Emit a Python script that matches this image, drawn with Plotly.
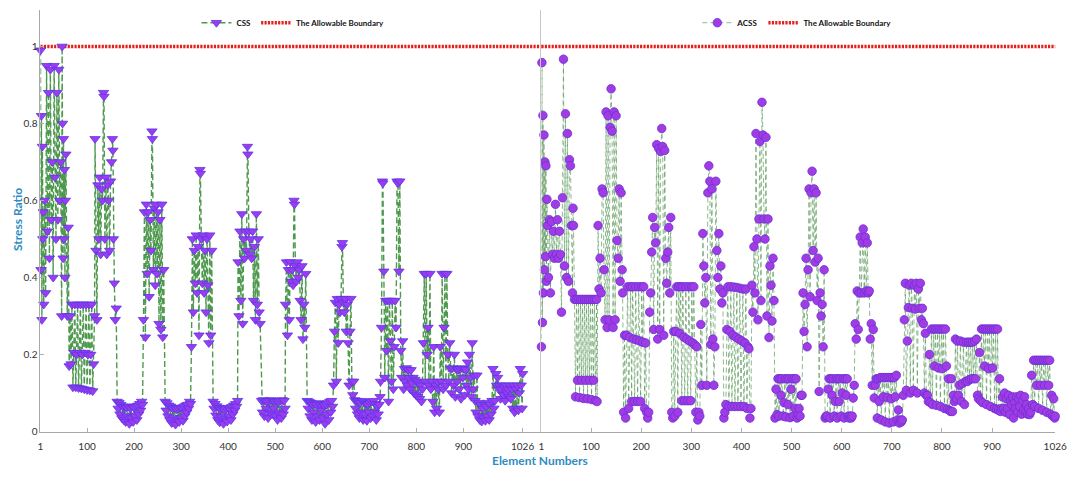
import plotly.graph_objects as go

# Stress ratio per element, CSS design (left panel)
CSS_ELEMENT = [
    1, 2, 3, 4, 5, 6, 7, 8, 10, 12, 14, 16, 18, 20, 22, 24, 26, 28, 30, 32, 34, 36, 38, 40, 42, 44, 46, 47, 48, 49, 50, 51, 52, 53, 54, 55,
    58, 60, 62, 64, 66, 68, 70, 72, 74, 76, 78, 80, 82, 84, 86, 88, 90, 92, 94, 96, 98, 100, 102, 104, 106, 108, 110, 112, 114, 116,
    117, 119, 121, 123, 125, 127, 129, 131, 133, 135, 136, 138, 140, 142, 144, 146, 148, 150, 152, 154, 155, 156, 158, 160, 162,
    164, 166, 168, 170, 172, 174, 176, 178, 180, 182, 184, 186, 188, 190, 192, 194, 196, 198, 200, 202, 204, 206, 208, 210, 212, 214, 216, 218,
    220, 222, 224, 226, 228, 230, 232, 234, 236, 238, 239, 241, 243, 245, 247, 249, 251, 253, 255, 257, 259, 261, 263,
    266, 268, 270, 272, 274, 276, 278, 280, 282, 284, 286, 288, 290, 292, 294, 296, 298, 300, 302, 304, 306, 308, 310, 312, 314, 316, 318, 320,
    322, 324, 326, 328, 330, 332, 334, 336, 338, 340, 341, 343, 345, 347, 349, 351, 353, 355, 357, 359, 361, 363, 365,
    368, 370, 372, 374, 376, 378, 380, 382, 384, 386, 388, 390, 392, 394, 396, 398, 400, 402, 404, 406, 408, 410, 412, 414, 416, 418, 420,
    421, 423, 425, 427, 429, 431, 433, 435, 437, 439, 441, 442, 444, 446, 448, 450, 452, 454, 456, 458, 460, 462, 464, 466, 468,
    471, 473, 475, 477, 479, 481, 483, 485, 487, 489, 491, 493, 495, 497, 499, 501, 503, 505, 507, 509, 511, 513, 515, 517, 519, 521,
    522, 524, 526, 528, 530, 532, 534, 536, 538, 540, 541, 543, 545, 547, 549, 551, 553, 555, 557, 559, 561, 563, 565,
    568, 570, 572, 574, 576, 578, 580, 582, 584, 586, 588, 590, 592, 594, 596, 598, 600, 602, 604, 606, 608, 610, 612, 614, 616, 618, 620, 622,
    624, 626, 628, 630, 632, 634, 636, 638, 640, 642, 643, 645, 647, 649, 651, 653, 655, 657, 659, 661, 663, 665,
    667, 669, 671, 673, 675, 677, 679, 681, 683, 685, 687, 689, 691, 693, 695, 697, 699, 701, 703, 705, 707, 709, 711, 713, 715, 717, 719, 721, 723,
    724, 726, 728, 729, 731, 733, 735, 737, 739, 741, 743, 745, 747, 749, 751, 753, 755, 757, 759, 761, 763, 765, 767, 769, 771, 773,
    775, 777, 779, 781, 783, 785, 787, 789, 791, 793, 795, 797, 799, 801, 803, 805, 807, 809, 811, 813,
    815, 817, 819, 821, 823, 825, 827, 829, 831, 833, 835, 837, 839, 841, 843, 845, 847, 849, 851, 853, 855, 857, 859, 861, 863, 865, 867, 869, 871,
    873, 875, 877, 879, 881, 883, 885, 887, 889, 891, 893, 895, 897, 899, 901, 903, 905, 907, 909, 911, 913, 915, 917, 919, 921, 923,
    925, 927, 929, 931, 933, 935, 937, 939, 941, 943, 945, 947, 949, 951, 953, 955, 957, 959, 961, 963, 965, 967,
    969, 971, 973, 975, 977, 979, 981, 983, 985, 987, 989, 991, 993, 995, 997, 999, 1001, 1003, 1005, 1007, 1009, 1011, 1013, 1015, 1017, 1019, 1021, 1023, 1025, 1026,
]
CSS_RATIO = [
    0.99, 0.42, 0.82, 0.29, 0.74, 0.50, 0.57, 0.33, 0.60, 0.36, 0.95, 0.52, 0.88, 0.45, 0.94, 0.55, 0.70, 0.40, 0.95, 0.66, 0.50, 0.88, 0.55, 0.94, 0.60, 0.70, 0.30, 1.0, 0.80, 0.45, 0.76, 0.50, 0.68, 0.40, 0.60, 0.72,
    0.30, 0.53, 0.17, 0.30, 0.175, 0.33, 0.115, 0.205, 0.33, 0.115, 0.20, 0.33, 0.113, 0.205, 0.33, 0.112, 0.20, 0.33, 0.11, 0.205, 0.33, 0.108, 0.20, 0.33, 0.107, 0.20, 0.33, 0.105, 0.175, 0.30,
    0.76, 0.47, 0.29, 0.64, 0.50, 0.66, 0.46, 0.63, 0.60, 0.88, 0.87, 0.50, 0.66, 0.46, 0.64, 0.60, 0.47, 0.65, 0.70, 0.76, 0.73, 0.50, 0.385, 0.29, 0.32,
    0.078, 0.06, 0.075, 0.045, 0.07, 0.035, 0.065, 0.03, 0.065, 0.025, 0.062, 0.04, 0.065, 0.02, 0.06, 0.035, 0.065, 0.025, 0.062, 0.04, 0.065, 0.03, 0.068, 0.045, 0.072, 0.055, 0.078, 0.07,
    0.29, 0.57, 0.245, 0.59, 0.41, 0.57, 0.35, 0.55, 0.47, 0.78, 0.76, 0.42, 0.58, 0.38, 0.59, 0.41, 0.57, 0.28, 0.55, 0.265, 0.59, 0.245, 0.42,
    0.078, 0.055, 0.074, 0.04, 0.068, 0.03, 0.065, 0.022, 0.06, 0.035, 0.062, 0.018, 0.058, 0.03, 0.06, 0.025, 0.062, 0.035, 0.06, 0.028, 0.065, 0.04, 0.068, 0.05, 0.07, 0.06, 0.078, 0.072,
    0.22, 0.50, 0.31, 0.47, 0.385, 0.51, 0.36, 0.48, 0.25, 0.68, 0.67, 0.50, 0.385, 0.51, 0.36, 0.47, 0.31, 0.50, 0.38, 0.23, 0.51, 0.25, 0.47,
    0.078, 0.06, 0.072, 0.042, 0.066, 0.03, 0.062, 0.024, 0.058, 0.038, 0.06, 0.02, 0.056, 0.032, 0.06, 0.026, 0.062, 0.04, 0.058, 0.03, 0.064, 0.045, 0.068, 0.055, 0.072, 0.065, 0.08,
    0.44, 0.30, 0.52, 0.34, 0.565, 0.28, 0.50, 0.45, 0.52, 0.47, 0.74, 0.72, 0.52, 0.46, 0.50, 0.45, 0.52, 0.34, 0.48, 0.29, 0.565, 0.33, 0.50, 0.31, 0.28,
    0.08, 0.05, 0.082, 0.04, 0.08, 0.06, 0.078, 0.035, 0.08, 0.05, 0.082, 0.045, 0.08, 0.06, 0.078, 0.04, 0.08, 0.03, 0.078, 0.05, 0.08, 0.035, 0.082, 0.045, 0.08, 0.06,
    0.33, 0.44, 0.25, 0.42, 0.29, 0.44, 0.39, 0.42, 0.38, 0.60, 0.59, 0.43, 0.39, 0.44, 0.40, 0.42, 0.34, 0.29, 0.43, 0.24, 0.33, 0.27, 0.41,
    0.08, 0.06, 0.078, 0.04, 0.075, 0.03, 0.07, 0.05, 0.072, 0.025, 0.07, 0.04, 0.074, 0.03, 0.07, 0.055, 0.072, 0.035, 0.068, 0.02, 0.07, 0.045, 0.074, 0.03, 0.078, 0.05, 0.08, 0.065,
    0.12, 0.26, 0.335, 0.13, 0.345, 0.23, 0.33, 0.31, 0.345, 0.48, 0.49, 0.335, 0.31, 0.345, 0.26, 0.33, 0.23, 0.12, 0.26, 0.345, 0.13, 0.095,
    0.13, 0.082, 0.06, 0.08, 0.045, 0.078, 0.035, 0.075, 0.05, 0.08, 0.03, 0.076, 0.045, 0.072, 0.028, 0.07, 0.05, 0.075, 0.035, 0.078, 0.04, 0.08, 0.05, 0.072, 0.03, 0.065, 0.045, 0.07, 0.09,
    0.13, 0.27, 0.65, 0.645, 0.416, 0.14, 0.34, 0.21, 0.34, 0.078, 0.34, 0.235, 0.13, 0.34, 0.11, 0.22, 0.34, 0.27, 0.65, 0.645, 0.416, 0.65, 0.21, 0.14, 0.235, 0.11,
    0.163, 0.13, 0.165, 0.12, 0.16, 0.14, 0.11, 0.16, 0.125, 0.14, 0.10, 0.135, 0.095, 0.13, 0.09, 0.125, 0.085, 0.12, 0.078, 0.11,
    0.23, 0.41, 0.13, 0.41, 0.20, 0.27, 0.12, 0.41, 0.11, 0.13, 0.078, 0.22, 0.05, 0.12, 0.06, 0.13, 0.11, 0.05, 0.22, 0.13, 0.41, 0.11, 0.27, 0.41, 0.12, 0.41, 0.20, 0.13, 0.23,
    0.163, 0.10, 0.165, 0.12, 0.2, 0.09, 0.163, 0.13, 0.16, 0.11, 0.163, 0.085, 0.165, 0.14, 0.163, 0.095, 0.16, 0.12, 0.18, 0.11, 0.2, 0.14, 0.09, 0.23, 0.11, 0.146,
    0.08, 0.05, 0.146, 0.04, 0.075, 0.03, 0.07, 0.026, 0.06, 0.035, 0.07, 0.028, 0.065, 0.04, 0.075, 0.03, 0.07, 0.045, 0.08, 0.163, 0.06, 0.08,
    0.15, 0.12, 0.14, 0.11, 0.12, 0.085, 0.11, 0.12, 0.095, 0.115, 0.08, 0.12, 0.10, 0.11, 0.09, 0.12, 0.085, 0.11, 0.06, 0.12, 0.05, 0.11, 0.06, 0.12, 0.055, 0.10, 0.163, 0.12, 0.06, 0.15,
]

# Stress ratio per element, ACSS design (right panel)
ACSS_ELEMENT = [
    1, 2, 3, 4, 5, 6, 7, 8, 9, 10, 11, 12, 13, 15, 17, 19, 21, 23, 25, 27, 29, 31, 33, 35, 37, 39, 41,
    43, 45, 47, 49, 51, 53, 55, 57, 59, 61, 63, 64, 65,
    67, 69, 71, 73, 75, 77, 79, 81, 83, 85, 87, 89, 91, 93, 95, 97, 99, 101, 103, 105, 107, 109, 111, 112,
    114, 116, 118, 120, 122, 124, 126, 128, 130, 132, 134, 136, 138, 140, 142, 144, 146, 148, 150, 152, 154, 156, 158, 160, 162, 163,
    165, 167, 169, 171, 173, 175, 177, 179, 181, 183, 185, 187, 189, 191, 193, 195, 197, 199, 201, 203, 205, 207, 209, 211, 213, 215,
    217, 219, 221, 223, 225, 227, 229, 231, 233, 235, 237, 239, 241, 243, 245, 247, 249, 251, 253, 255, 257, 259,
    261, 263, 265, 267, 269, 271, 273, 275, 277, 279, 281, 283, 285, 287, 289, 291, 293, 295, 297, 299, 301, 303, 305, 307, 309, 311, 313, 315, 317,
    319, 321, 323, 325, 327, 329, 331, 333, 335, 337, 339, 341, 343, 345, 347, 349, 351, 353, 355, 357, 359, 361, 363, 365, 367,
    369, 371, 373, 375, 377, 379, 381, 383, 385, 387, 389, 391, 393, 395, 397, 399, 401, 403, 405, 407, 409, 411, 413, 415, 417, 419,
    421, 423, 425, 427, 429, 431, 433, 435, 437, 439, 441, 443, 445, 447, 449, 451, 453, 455, 457, 459, 461, 463, 465,
    467, 469, 471, 473, 475, 477, 479, 481, 483, 485, 487, 489, 491, 493, 495, 497, 499, 501, 503, 505, 507, 509, 511, 513, 515, 517, 519, 521,
    523, 525, 527, 529, 531, 533, 535, 537, 539, 541, 543, 545, 547, 549, 551, 553, 555, 557, 559, 561, 563, 565, 567, 569,
    571, 573, 575, 577, 579, 581, 583, 585, 587, 589, 591, 593, 595, 597, 599, 601, 603, 605, 607, 609, 611, 613, 615, 617, 619, 621,
    623, 625, 627, 629, 631, 633, 635, 637, 639, 641, 643, 645, 647, 649, 651, 653, 655, 657, 659, 661, 663, 665, 667,
    669, 671, 673, 675, 677, 679, 681, 683, 685, 687, 689, 691, 693, 695, 697, 699, 701, 703, 705, 707, 709, 711, 713, 715, 717, 719, 721,
    723, 725, 727, 729, 731, 733, 735, 737, 739, 741, 743, 745, 747, 749, 751, 753, 755, 757, 759, 761, 763, 765, 767, 769, 771,
    773, 775, 777, 779, 781, 783, 785, 787, 789, 791, 793, 795, 797, 799, 801, 803, 805, 807, 809, 811, 813, 815, 817, 819, 821,
    823, 825, 827, 829, 831, 833, 835, 837, 839, 841, 843, 845, 847, 849, 851, 853, 855, 857, 859, 861, 863, 865, 867, 869,
    871, 873, 875, 877, 879, 881, 883, 885, 887, 889, 891, 893, 895, 897, 899, 901, 903, 905, 907, 909, 911, 913, 915, 917, 919,
    921, 923, 925, 927, 929, 931, 933, 935, 937, 939, 941, 943, 945, 947, 949, 951, 953, 955, 957, 959, 961, 963, 965, 967, 969, 971, 973, 975, 977,
    979, 981, 983, 985, 987, 989, 991, 993, 995, 997, 999, 1001, 1003, 1005, 1007, 1009, 1011, 1013, 1015, 1017, 1019, 1021, 1023, 1025, 1026,
]
ACSS_RATIO = [
    0.22, 0.958, 0.283, 0.821, 0.36, 0.77, 0.42, 0.70, 0.454, 0.69, 0.39, 0.603, 0.535, 0.40, 0.55, 0.36, 0.545, 0.46, 0.52, 0.45, 0.59, 0.46, 0.55, 0.45, 0.52, 0.46, 0.31,
    0.607, 0.967, 0.43, 0.825, 0.40, 0.774, 0.39, 0.706, 0.69, 0.535, 0.36, 0.58, 0.535,
    0.343, 0.09, 0.343, 0.133, 0.343, 0.088, 0.343, 0.133, 0.343, 0.086, 0.343, 0.133, 0.343, 0.085, 0.343, 0.133, 0.343, 0.083, 0.343, 0.133, 0.343, 0.08, 0.343, 0.078,
    0.535, 0.37, 0.45, 0.36, 0.63, 0.62, 0.42, 0.29, 0.83, 0.27, 0.82, 0.29, 0.79, 0.89, 0.78, 0.27, 0.83, 0.29, 0.82, 0.496, 0.45, 0.63, 0.39, 0.62, 0.42, 0.36,
    0.05, 0.25, 0.035, 0.25, 0.376, 0.06, 0.245, 0.376, 0.078, 0.376, 0.24, 0.078, 0.376, 0.238, 0.078, 0.376, 0.235, 0.078, 0.376, 0.232, 0.376, 0.06, 0.23, 0.05, 0.035, 0.05,
    0.31, 0.36, 0.466, 0.556, 0.265, 0.53, 0.49, 0.745, 0.24, 0.735, 0.265, 0.727, 0.787, 0.74, 0.25, 0.73, 0.45, 0.385, 0.466, 0.53, 0.36, 0.556,
    0.05, 0.035, 0.26, 0.04, 0.26, 0.376, 0.05, 0.376, 0.255, 0.376, 0.08, 0.376, 0.245, 0.08, 0.376, 0.24, 0.08, 0.376, 0.235, 0.08, 0.376, 0.23, 0.376, 0.225, 0.05, 0.22, 0.03, 0.05, 0.04,
    0.278, 0.12, 0.514, 0.43, 0.334, 0.40, 0.12, 0.62, 0.69, 0.65, 0.226, 0.63, 0.24, 0.12, 0.22, 0.65, 0.47, 0.40, 0.514, 0.37, 0.43, 0.334, 0.36, 0.035, 0.05,
    0.07, 0.265, 0.376, 0.065, 0.26, 0.376, 0.065, 0.25, 0.375, 0.065, 0.245, 0.374, 0.065, 0.24, 0.372, 0.065, 0.235, 0.37, 0.065, 0.23, 0.37, 0.06, 0.22, 0.215, 0.035, 0.06,
    0.38, 0.31, 0.48, 0.36, 0.774, 0.5, 0.29, 0.552, 0.753, 0.34, 0.855, 0.77, 0.552, 0.5, 0.764, 0.30, 0.552, 0.244, 0.43, 0.38, 0.287, 0.45, 0.34,
    0.035, 0.11, 0.044, 0.137, 0.04, 0.137, 0.094, 0.137, 0.04, 0.075, 0.137, 0.038, 0.137, 0.07, 0.137, 0.036, 0.11, 0.137, 0.04, 0.137, 0.06, 0.137, 0.035, 0.044, 0.06, 0.04, 0.094, 0.094,
    0.36, 0.26, 0.33, 0.45, 0.22, 0.42, 0.63, 0.35, 0.62, 0.676, 0.47, 0.63, 0.44, 0.62, 0.34, 0.45, 0.104, 0.36, 0.30, 0.33, 0.22, 0.42, 0.035, 0.04,
    0.04, 0.11, 0.137, 0.035, 0.137, 0.094, 0.137, 0.04, 0.078, 0.137, 0.035, 0.137, 0.078, 0.137, 0.04, 0.10, 0.137, 0.035, 0.137, 0.094, 0.137, 0.04, 0.035, 0.04, 0.035, 0.04,
    0.087, 0.12, 0.28, 0.24, 0.365, 0.265, 0.36, 0.505, 0.36, 0.49, 0.526, 0.36, 0.505, 0.365, 0.49, 0.36, 0.365, 0.24, 0.28, 0.12, 0.265, 0.087, 0.12,
    0.137, 0.035, 0.137, 0.078, 0.14, 0.03, 0.14, 0.09, 0.14, 0.025, 0.14, 0.088, 0.14, 0.022, 0.14, 0.085, 0.14, 0.025, 0.14, 0.09, 0.146, 0.03, 0.056, 0.022, 0.03, 0.025, 0.03,
    0.094, 0.29, 0.385, 0.107, 0.235, 0.322, 0.38, 0.10, 0.385, 0.32, 0.107, 0.38, 0.318, 0.385, 0.1, 0.37, 0.32, 0.385, 0.29, 0.32, 0.28, 0.10, 0.255, 0.094, 0.094,
    0.078, 0.2, 0.075, 0.266, 0.07, 0.266, 0.17, 0.266, 0.068, 0.266, 0.165, 0.266, 0.065, 0.266, 0.163, 0.266, 0.06, 0.266, 0.17, 0.058, 0.137, 0.055, 0.052, 0.137, 0.052,
    0.094, 0.078, 0.24, 0.085, 0.235, 0.094, 0.12, 0.235, 0.078, 0.125, 0.232, 0.07, 0.13, 0.232, 0.13, 0.232, 0.135, 0.232, 0.137, 0.232, 0.137, 0.235, 0.137, 0.24,
    0.094, 0.085, 0.205, 0.08, 0.266, 0.075, 0.266, 0.17, 0.266, 0.07, 0.266, 0.163, 0.266, 0.065, 0.266, 0.165, 0.266, 0.06, 0.266, 0.058, 0.266, 0.055, 0.137, 0.052, 0.06,
    0.09, 0.06, 0.1, 0.05, 0.085, 0.06, 0.094, 0.044, 0.08, 0.07, 0.09, 0.035, 0.075, 0.06, 0.09, 0.05, 0.085, 0.065, 0.094, 0.045, 0.08, 0.055, 0.09, 0.05, 0.07, 0.045, 0.06, 0.044, 0.05,
    0.146, 0.07, 0.185, 0.065, 0.185, 0.12, 0.185, 0.06, 0.185, 0.12, 0.185, 0.055, 0.185, 0.12, 0.185, 0.05, 0.185, 0.12, 0.185, 0.045, 0.094, 0.04, 0.085, 0.035, 0.04,
]

# Allowable stress ratio limit
BOUNDARY_RATIO = 1.0

X_TICK_VALUES = [1, 100, 200, 300, 400, 500, 600, 700, 800, 900, 1026]
X_TICK_TEXT = ["1", "100", "200", "300", "400", "500", "600", "700", "800", "900", "1026"]
Y_TICK_VALUES = [0, 0.2, 0.4, 0.6, 0.8, 1]
Y_TICK_TEXT = ["0", "0.2", "0.4", "0.6", "0.8", "1"]

assert len(CSS_ELEMENT) == len(CSS_RATIO)
assert len(ACSS_ELEMENT) == len(ACSS_RATIO)

W, H = 1081, 478
TITLE_BLUE = "#2f8cc2"
NARROW = "'Liberation Sans Narrow', Lato, 'Open Sans', sans-serif"
TICK_FONT = dict(family="Lato, 'Open Sans', sans-serif", size=10, color="#333333")
LEGEND_FONT = dict(family="Lato, 'Liberation Sans', sans-serif", size=8, color="#111111", weight="bold")
TITLE_FONT = dict(family=NARROW, size=12, color=TITLE_BLUE, weight="bold")
BOUNDARY_LINE = dict(color="#e3201b", width=3.4, dash="2.2px,1.2px")

fig = go.Figure()

fig.add_trace(go.Scatter(
    x=CSS_ELEMENT, y=CSS_RATIO, mode="lines+markers", name="CSS",
    xaxis="x", yaxis="y", legend="legend", cliponaxis=False,
    line=dict(color="rgba(48,135,48,0.85)", width=1.4, dash="6px,3px"),
    marker=dict(symbol="triangle-down", size=9, color="#9b3cf2",
                line=dict(color="#5a36e4", width=0.8)),
))

fig.add_trace(go.Scatter(
    x=ACSS_ELEMENT, y=ACSS_RATIO, mode="lines+markers", name="ACSS",
    xaxis="x2", yaxis="y2", legend="legend2", cliponaxis=False,
    line=dict(color="rgba(70,140,70,0.6)", width=1, dash="5px,3px"),
    marker=dict(symbol="circle", size=8.5, color="#a13ce4",
                line=dict(color="#6a30d8", width=0.8)),
))

# The allowable boundary spans the full width of each panel
shapes = []
for xr, yr, lg in (("x domain", "y", "legend"), ("x2 domain", "y2", "legend2")):
    shapes.append(dict(
        type="line", xref=xr, yref=yr, x0=0, x1=1, y0=BOUNDARY_RATIO, y1=BOUNDARY_RATIO,
        line=BOUNDARY_LINE, layer="below",
        showlegend=True, name="The Allowable Boundary", legend=lg,
    ))

x_left = [38 / W, 546 / W]
x_right = [546 / W, 1067 / W]
y_dom = [41 / H, 468 / H]

axis_common = dict(
    showgrid=False, zeroline=False, showline=True, linecolor="#a8a8a8", linewidth=1,
    ticks="inside", ticklen=4, tickcolor="#b0b0b0", tickfont=TICK_FONT,
)

fig.update_layout(
    width=W, height=H,
    margin=dict(l=0, r=0, t=0, b=0),
    paper_bgcolor="white", plot_bgcolor="white",
    shapes=shapes,
    xaxis=dict(domain=x_left, range=[1, 1066], tickvals=X_TICK_VALUES, ticktext=X_TICK_TEXT,
               anchor="y", ticklabelstandoff=5, **axis_common),
    yaxis=dict(domain=y_dom, range=[0, 1.095], tickvals=Y_TICK_VALUES, ticktext=Y_TICK_TEXT,
               anchor="x", **axis_common),
    xaxis2=dict(domain=x_right, range=[1, 1026], tickvals=X_TICK_VALUES, ticktext=X_TICK_TEXT,
                anchor="y2", ticklabelstandoff=5, **axis_common),
    yaxis2=dict(domain=y_dom, range=[0, 1.095], anchor="x2", showticklabels=False,
                showgrid=False, zeroline=False, showline=True, linecolor="#c8c8c8",
                linewidth=1, ticks=""),
    legend=dict(orientation="h", x=294 / W, y=1 - 23 / H, xanchor="center", yanchor="middle",
                font=LEGEND_FONT, itemwidth=30, bgcolor="rgba(0,0,0,0)", tracegroupgap=0),
    legend2=dict(orientation="h", x=805 / W, y=1 - 23 / H, xanchor="center", yanchor="middle",
                 font=LEGEND_FONT, itemwidth=30, bgcolor="rgba(0,0,0,0)", tracegroupgap=0),
    annotations=[
        dict(text="Stress Ratio", xref="paper", yref="paper", x=14 / W, y=1 - 222 / H,
             textangle=-90, showarrow=False, xanchor="center", yanchor="middle",
             font=TITLE_FONT),
        dict(text="Element Numbers", xref="paper", yref="paper", x=545 / W, y=1 - 466 / H,
             showarrow=False, xanchor="center", yanchor="middle",
             font=TITLE_FONT),
    ],
)

# Page without body margin so the fixed-size figure fills the window exactly
fig.write_html(
    "out.html",
    post_script=(
        "document.documentElement.style.margin='0';"
        "document.body.style.margin='0';"
        "document.documentElement.style.overflow='hidden';"
        "document.body.style.overflow='hidden';"
    ),
)
